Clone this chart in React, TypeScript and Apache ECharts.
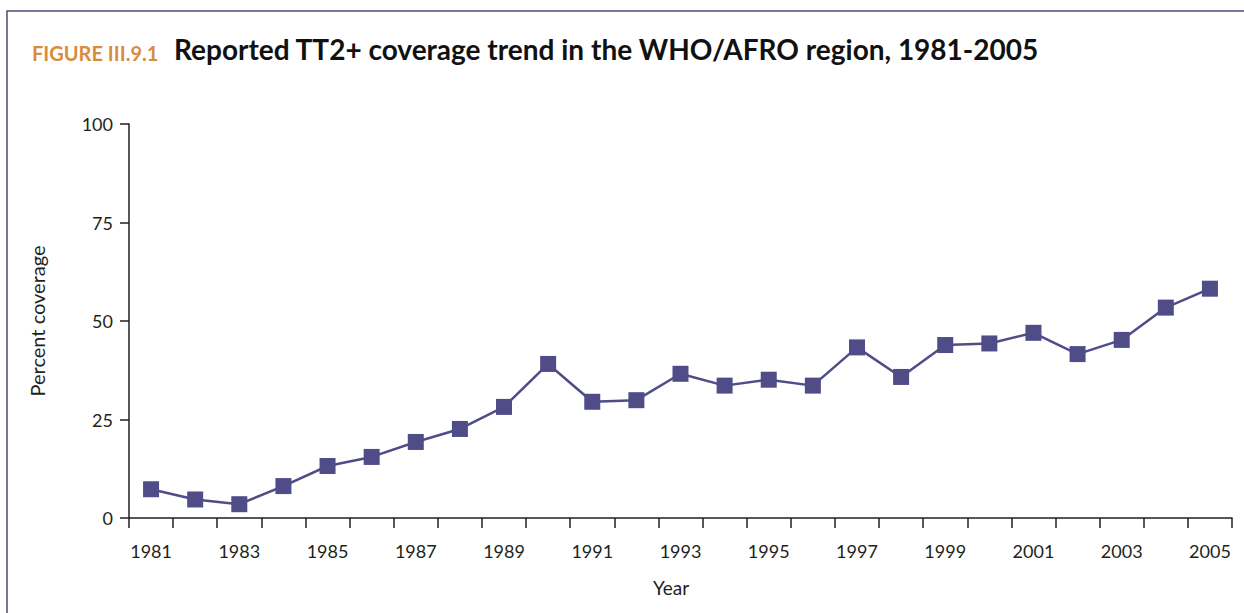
import React, { useEffect, useRef } from "react";
import * as echarts from "echarts";

const years = [
  "1981", "1982", "1983", "1984", "1985", "1986", "1987", "1988", "1989", "1990",
  "1991", "1992", "1993", "1994", "1995", "1996", "1997", "1998", "1999", "2000",
  "2001", "2002", "2003", "2004", "2005",
];
const coverage = [
  7.3, 4.7, 3.5, 8.1, 13.2, 15.5, 19.3, 22.6, 28.2, 39.1,
  29.5, 29.9, 36.6, 33.6, 35.1, 33.6, 43.3, 35.8, 43.9, 44.3,
  47.0, 41.6, 45.2, 53.4, 58.2,
];
const yTicks = [0, 25, 50, 75, 100];

const figureLabel = "FIGURE III.9.1";
const titleText = "Reported TT2+ coverage trend in the WHO/AFRO region, 1981-2005";

const FONT = "Lato, 'Open Sans', sans-serif";

export default function App() {
  const ref = useRef<HTMLDivElement>(null);
  useEffect(() => {
    if (!ref.current) return;
    const chart = echarts.init(ref.current, undefined, { renderer: "svg" });
    chart.setOption({
      animation: false,
      backgroundColor: "#ffffff",
      textStyle: { fontFamily: FONT },
      grid: { left: 129, right: 12, top: 124, bottom: 95, containLabel: false },
      xAxis: {
        type: "category",
        data: years,
        boundaryGap: true,
        axisLine: { lineStyle: { color: "#231f20", width: 1.5 } },
        axisTick: { show: true, interval: 0, length: 10, lineStyle: { color: "#231f20", width: 1.5 } },
        axisLabel: { interval: 1, color: "#231f20", fontSize: 18, margin: 24, fontFamily: FONT },
        splitLine: { show: false },
      },
      yAxis: {
        type: "value",
        min: 0,
        max: 100,
        interval: 25,
        name: "Percent coverage",
        nameLocation: "middle",
        nameGap: 82,
        nameTextStyle: { color: "#231f20", fontSize: 20, fontFamily: FONT },
        axisLine: { show: true, lineStyle: { color: "#231f20", width: 1.5 } },
        axisTick: { show: true, length: 9, lineStyle: { color: "#231f20", width: 1.5 } },
        axisLabel: {
          color: "#231f20",
          fontSize: 18,
          margin: 16,
          fontFamily: FONT,
          formatter: (v: number) => (yTicks.includes(v) ? String(v) : ""),
        },
        splitLine: { show: false },
      },
      series: [
        {
          type: "line",
          data: coverage,
          symbol: "rect",
          symbolSize: 16,
          itemStyle: { color: "#4f4c88" },
          lineStyle: { color: "#4f4c88", width: 2.5 },
        },
      ],
      graphic: [
        {
          type: "polyline",
          shape: { points: [[7, 613], [7, 11], [1244, 11]] },
          style: { stroke: "#4b4a7e", lineWidth: 1.5, fill: null },
        },
        {
          type: "text",
          left: 32,
          top: 43,
          style: { text: figureLabel, fill: "#d98c3c", font: `bold 20px ${FONT}` },
        },
        {
          type: "text",
          left: 174,
          top: 35,
          style: { text: titleText, fill: "#111111", font: `bold 28px ${FONT}` },
        },
        {
          type: "text",
          x: 671,
          y: 587,
          style: {
            text: "Year",
            fill: "#231f20",
            font: `19px ${FONT}`,
            align: "center",
            verticalAlign: "middle",
          },
        },
      ],
    });
    return () => chart.dispose();
  }, []);
  return (
    <div
      ref={ref}
      style={{ position: "absolute", left: 0, top: 0, width: 1244, height: 613 }}
    />
  );
}
